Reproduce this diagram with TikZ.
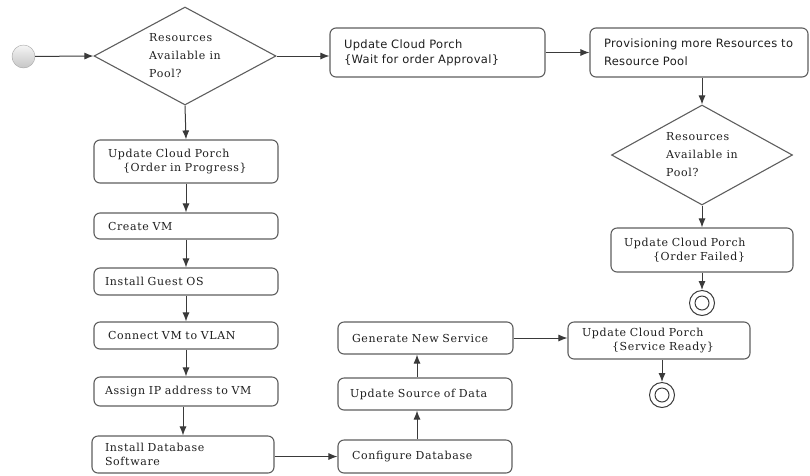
\documentclass[tikz,border=0pt]{standalone}
\usepackage{fontspec}
\newfontfamily\serifF[LetterSpace=6]{DejaVu Serif}
\newfontfamily\sansF[LetterSpace=3]{DejaVu Sans}
\usetikzlibrary{shapes.geometric,arrows.meta}
\definecolor{linec}{HTML}{3A3A3A}
\definecolor{boxc}{HTML}{5E5E5E}
\definecolor{textc}{HTML}{1E1E1E}
\tikzset{
  boxbase/.style={draw=boxc, line width=1.1pt, rounded corners=6pt, align=left,
    inner xsep=14pt, inner ysep=0pt, text=textc,
    font=\serifF\fontsize{11}{14.5}\selectfont},
  sansbox/.style={boxbase, font=\sansF\fontsize{11.5}{15}\selectfont},
  decision/.style={diamond, draw=boxc, line width=1.1pt, inner sep=0pt, align=left,
    text=textc, font=\serifF\fontsize{11}{18}\selectfont},
  arr/.style={draw=linec, line width=1pt, -{Latex[length=9pt,width=7pt]}},
  startnode/.style={circle, minimum size=23pt, inner sep=0pt, draw=gray!70,
    top color=gray!8, bottom color=gray!45},
  endnode/.style={circle, minimum size=25pt, inner sep=0pt, draw=linec, line width=1pt,
    path picture={\draw[linec, line width=1pt] (path picture bounding box.center) circle (7pt);}}
}
\begin{document}
\begin{tikzpicture}[x=1pt,y=-1pt]
\useasboundingbox (0,0) rectangle (810,475);

\node[startnode] (start) at (23.5,56.5) {};
\node[decision, aspect=1.86, minimum width=182pt, minimum height=98pt] (d1) at (185,56)
  {Resources\\Available in\\Pool?};
\node[sansbox, text width=187pt, minimum height=49pt] (wait) at (437.5,52.5)
  {Update Cloud Porch\\\{Wait for order Approval\}};
\node[sansbox, text width=190pt, minimum height=49pt,
  font=\sansF\fontsize{11.5}{18}\selectfont] (prov) at (699,52.5)
  {Provisioning more Resources to\\Resource Pool};
\node[decision, aspect=1.81, minimum width=181pt, minimum height=100pt] (d2) at (702,155)
  {Resources\\Available in\\Pool?};
\node[boxbase, text width=156pt, minimum height=44pt, inner xsep=13pt] (failed) at (702,250)
  {Update Cloud Porch\\\hspace*{29pt}\{Order Failed\}};
\node[endnode] (end1) at (702,303) {};

\node[boxbase, text width=156pt, minimum height=43pt] (progress) at (186,161.5)
  {Update Cloud Porch\\\hspace*{15pt}\{Order in Progress\}};
\node[boxbase, text width=156pt, minimum height=26pt] (createvm) at (186,226) {Create VM};
\node[boxbase, text width=162pt, minimum height=27pt, inner xsep=11pt] (guestos) at (186,281.5) {Install Guest OS};
\node[boxbase, text width=156pt, minimum height=27pt] (vlan) at (186,335.5) {Connect VM to VLAN};
\node[boxbase, text width=162pt, minimum height=29pt, inner xsep=11pt] (ip) at (186,391.5) {Assign IP address to VM};
\node[boxbase, text width=156pt, minimum height=37pt, inner xsep=13pt] (dbsoft) at (183,454.5)
  {Install Database\\Software};
\node[boxbase, text width=146pt, minimum height=33pt] (config) at (425,456.5) {Configure Database};
\node[boxbase, text width=150pt, minimum height=32pt, inner xsep=12pt] (source) at (425,394) {Update Source of Data};
\node[boxbase, text width=147pt, minimum height=32pt] (generate) at (425.5,338) {Generate New Service};
\node[boxbase, text width=154pt, minimum height=37pt] (ready) at (659,340.5)
  {Update Cloud Porch\\\hspace*{30pt}\{Service Ready\}};
\node[endnode] (end2) at (662,395) {};

\draw[arr] (start) -- (d1.west);
\draw[arr] (d1.east) -- (d1.east -| wait.west);
\draw[arr] (wait) -- (prov);
\draw[arr] (prov.south -| d2.north) -- (d2.north);
\draw[arr] (d2.south) -- (failed.north);
\draw[arr] (failed.south -| end1) -- (end1.north);
\draw[arr] (d1.south) -- (progress.north);
\draw[arr] (progress) -- (createvm);
\draw[arr] (createvm) -- (guestos);
\draw[arr] (guestos) -- (vlan);
\draw[arr] (vlan) -- (ip);
\draw[arr] (ip.south -| dbsoft.north) -- (dbsoft.north);
\draw[arr] (dbsoft.east |- config.west) -- (config.west);
\draw[arr] ([xshift=-8pt]config.north) -- ([xshift=-8pt]config.north |- source.south);
\draw[arr] ([xshift=-8pt]source.north) -- ([xshift=-8pt]source.north |- generate.south);
\draw[arr] (generate.east) -- (generate.east -| ready.west);
\draw[arr] (ready.south -| end2) -- (end2.north);
\end{tikzpicture}
\end{document}
